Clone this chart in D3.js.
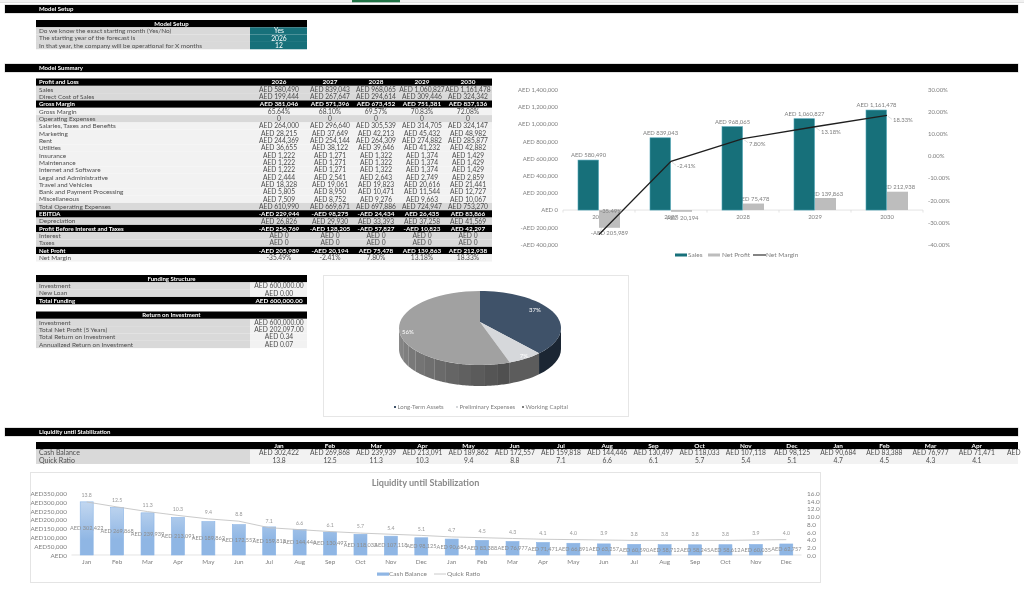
<!DOCTYPE html>
<html><head><meta charset="utf-8">
<script src="https://cdn.jsdelivr.net/npm/d3@7"></script>
<style>
html,body{margin:0;padding:0;background:#fff;overflow:hidden}
svg{display:block;filter:blur(0.4px)}
text{font-family:Lato,"Open Sans",sans-serif}
</style></head><body><svg id="c" width="1024" height="590"></svg>
<script>
// ---------- data ----------
const years=["2026","2027","2028","2029","2030"];
const setupLabels=["Do we know the exact starting month (Yes/No)","The starting year of the forecast is","In that year, the company will be operational for X months"];
const setupValues=["Yes","2026","12"];
const pnlLabels=["Sales","Direct Cost of Sales","Gross Margin","Gross Margin","Operating Expenses","Salaries, Taxes and Benefits","Marketing","Rent","Utilities","Insurance","Maintenance","Internet and Software","Legal and Administrative","Travel and Vehicles","Bank and Payment Processing","Miscellaneous","Total Operating Expenses","EBITDA","Depreciation","Profit Before Interest and Taxes","Interest","Taxes","Net Profit","Net Margin"];
const pnlKinds=["d","d","h","l","d","l","l","l","l","l","l","l","l","l","l","l","d","h","d","h","d","d","h","l"];
const pnlValues=[
["AED 580,490","AED 839,043","AED 968,065","AED 1,060,827","AED 1,161,478"],
["AED 199,444","AED 267,647","AED 294,614","AED 309,446","AED 324,342"],
["AED 381,046","AED 571,396","AED 673,452","AED 751,381","AED 837,136"],
["65.64%","68.10%","69.57%","70.83%","72.08%"],
["0","0","0","0","0"],
["AED 264,000","AED 296,640","AED 305,539","AED 314,705","AED 324,147"],
["AED 28,215","AED 37,649","AED 42,213","AED 45,432","AED 48,982"],
["AED 244,369","AED 254,144","AED 264,309","AED 274,882","AED 285,877"],
["AED 36,655","AED 38,122","AED 39,646","AED 41,232","AED 42,882"],
["AED 1,222","AED 1,271","AED 1,322","AED 1,374","AED 1,429"],
["AED 1,222","AED 1,271","AED 1,322","AED 1,374","AED 1,429"],
["AED 1,222","AED 1,271","AED 1,322","AED 1,374","AED 1,429"],
["AED 2,444","AED 2,541","AED 2,643","AED 2,749","AED 2,859"],
["AED 18,328","AED 19,061","AED 19,823","AED 20,616","AED 21,441"],
["AED 5,805","AED 8,950","AED 10,471","AED 11,544","AED 12,727"],
["AED 7,509","AED 8,752","AED 9,276","AED 9,663","AED 10,067"],
["AED 610,990","AED 669,671","AED 697,886","AED 724,947","AED 753,270"],
["-AED 229,944","-AED 98,275","-AED 24,434","AED 26,435","AED 83,866"],
["AED 26,826","AED 29,930","AED 33,393","AED 37,258","AED 41,569"],
["-AED 256,769","-AED 128,205","-AED 57,827","-AED 10,823","AED 42,297"],
["AED 0","AED 0","AED 0","AED 0","AED 0"],
["AED 0","AED 0","AED 0","AED 0","AED 0"],
["-AED 205,989","-AED 20,194","AED 75,478","AED 139,863","AED 212,938"],
["-35.49%","-2.41%","7.80%","13.18%","18.33%"]];
const sales=[580490,839043,968065,1060827,1161478];
const netProfit=[-205989,-20194,75478,139863,212938];
const netMargin=[-35.49,-2.41,7.80,13.18,18.33];
const fundingLabels=["Investment","New Loan","Total Funding"];
const fundingValues=["AED 600,000.00","AED 0.00","AED 600,000.00"];
const fundingKinds=["p","p","h"];
const roiLabels=["Investment","Total Net Profit (5 Years)","Total Return on Investment","Annualized Return on Investment"];
const roiValues=["AED 600,000.00","AED 202,097.00","AED 0.34","AED 0.07"];
const pieNames=["Long-Term Assets","Preliminary Expenses","Working Capital"];
const pieValues=[37,7,56];
const months=["Jan","Feb","Mar","Apr","May","Jun","Jul","Aug","Sep","Oct","Nov","Dec","Jan","Feb","Mar","Apr","May","Jun","Jul","Aug","Sep","Oct","Nov","Dec"];
const cash=[302422,269868,239939,213091,189862,172557,159818,144446,130497,118033,107118,98125,90684,83388,76977,71471,66891,63257,60590,58712,58245,58612,60035,62757];
const quick=[13.8,12.5,11.3,10.3,9.4,8.8,7.1,6.6,6.1,5.7,5.4,5.1,4.7,4.5,4.3,4.1,4.0,3.9,3.8,3.8,3.8,3.8,3.9,4.0];
const sectionTitles=["Model Setup","Model Summary","Liquidity until Stabilization"];

// ---------- helpers ----------
const svg=d3.select("#c");
const TEAL="#17707a",DARK="#d9d9d9",LIGHT="#f2f2f2",INK="#4d4d4d",AXIS="#808080";
const FS=6.7,LFS=6.45,BFS=6.05,RH=7.32;
const aed=d=>(d<0?"-":"")+"AED "+d3.format(",")(Math.abs(d));
function T(g,x,y,s,o={}){return g.append("text").attr("x",x).attr("y",y).attr("dy","0.34em")
  .attr("text-anchor",o.a||"start").attr("font-size",o.fs||FS).attr("font-weight",o.b?700:400)
  .attr("fill",o.c||INK).text(s);}
function R(g,x,y,w,h,f){return g.append("rect").attr("x",x).attr("y",y).attr("width",w).attr("height",h).attr("fill",f);}

// top sheet strip
const strip=svg.append("g");
R(strip,0,0,1024,2.2,"#f1f1f1");
R(strip,352,0,48,2.6,"#217346");
R(strip,0,2.2,1024,.6,"#cfcfcf");

// section bars
const barY=[5,64,428];
sectionTitles.forEach((t,i)=>{
  R(svg,4.5,barY[i]-.6,1014,9.2,"#cfcfcf");
  R(svg,5,barY[i],1013,8,"#000");
  T(svg,39,barY[i]+4,t,{c:"#fff",b:1,fs:BFS});
});

// model setup
const LX=36,VX=250,TX=39;
R(svg,LX,20,271,7.3,"#000");
T(svg,171.5,23.7,"Model Setup",{c:"#fff",b:1,a:"middle",fs:BFS});
setupLabels.forEach((l,i)=>{
  const y=27.3+i*RH;
  R(svg,LX,y,214,RH,DARK); R(svg,VX,y,57,RH,TEAL);
  T(svg,TX,y+RH/2,l,{fs:LFS});
  T(svg,279,y+RH/2,setupValues[i],{c:"#fff",a:"middle"});
});

// P&L table
const colX=[279,330,376,422,468];
const PY=78.5;
R(svg,LX,PY,456,RH,"#000");
T(svg,TX,PY+RH/2,"Profit and Loss",{c:"#fff",b:1,fs:BFS});
years.forEach((y,i)=>T(svg,colX[i],PY+RH/2,y,{c:"#fff",b:1,a:"middle",fs:6.4}));
pnlLabels.forEach((l,r)=>{
  const y=PY+(r+1)*RH,k=pnlKinds[r],h=k==="h";
  R(svg,LX,y,456,RH,h?"#000":k==="d"?DARK:LIGHT);
  T(svg,TX,y+RH/2,l,{c:h?"#fff":INK,b:h,fs:h?BFS:LFS});
  pnlValues[r].forEach((v,i)=>T(svg,colX[i],y+RH/2,v,{c:h?"#fff":INK,b:h,a:"middle",fs:h?6.4:FS}));
});

// funding + ROI
function smallTable(y0,title,labels,values,kinds){
  R(svg,LX,y0,271,RH,"#000");
  T(svg,171.5,y0+RH/2,title,{c:"#fff",b:1,a:"middle",fs:BFS});
  labels.forEach((l,i)=>{
    const y=y0+(i+1)*RH,h=kinds&&kinds[i]==="h";
    R(svg,LX,y,214,RH,h?"#000":DARK); R(svg,VX,y,57,RH,h?"#000":LIGHT);
    T(svg,TX,y+RH/2,l,{c:h?"#fff":INK,b:h,fs:h?BFS:LFS});
    T(svg,279,y+RH/2,values[i],{c:h?"#fff":INK,b:h,a:"middle",fs:h?6.4:FS});
  });
}
smallTable(275,"Funding Structure",fundingLabels,fundingValues,fundingKinds);
smallTable(311.5,"Return on Investment",roiLabels,roiValues);

// ---------- combo chart ----------
const combo=svg.append("g");
const CFS=5.9;
const x0=d3.scaleBand().domain(years).range([563,923]);
const yL=d3.scaleLinear().domain([-400000,1400000]).range([244.5,89.5]);
const yR=d3.scaleLinear().domain([-40,30]).range([244.5,89.5]);
const BW=21;
const axL=combo.append("g").attr("transform","translate(558,0)")
  .call(d3.axisLeft(yL).tickValues(d3.range(-400000,1400001,200000)).tickFormat(aed).tickSize(0).tickPadding(0));
const axR=combo.append("g").attr("transform","translate(928,0)")
  .call(d3.axisRight(yR).tickValues(d3.range(-40,31,10)).tickFormat(d=>d.toFixed(2)+"%").tickSize(0).tickPadding(0));
[axL,axR].forEach(a=>{a.select(".domain").remove();a.selectAll("text").attr("font-size",CFS).attr("fill",AXIS).attr("font-family","Lato");});
// baseline
combo.append("line").attr("x1",563).attr("x2",923).attr("y1",yL(0)).attr("y2",yL(0)).attr("stroke","#d9d9d9").attr("stroke-width",.7);
combo.selectAll(".tk").data(d3.range(6)).join("line").attr("x1",d=>563+d*x0.bandwidth()).attr("x2",d=>563+d*x0.bandwidth())
  .attr("y1",yL(0)).attr("y2",yL(0)+2.5).attr("stroke","#d9d9d9").attr("stroke-width",.7);
years.forEach(y=>T(combo,x0(y)+x0.bandwidth()/2,217,y,{a:"middle",c:AXIS,fs:CFS}));
const cx=y=>x0(y)+x0.bandwidth()/2;
// net profit bars + labels sit under the sales bars
combo.selectAll(".np").data(netProfit).join("rect").attr("x",(d,i)=>cx(years[i])).attr("width",BW)
  .attr("y",d=>yL(Math.max(d,0))).attr("height",d=>Math.abs(yL(d)-yL(0))).attr("fill","#bdbdbd");
netProfit.forEach((d,i)=>T(combo,cx(years[i])+BW/2,yL(d)+(d<0?(i===0?5:6):-4.5),aed(d),{a:"middle",c:AXIS,fs:CFS}));
combo.selectAll(".sl").data(sales).join("rect").attr("x",(d,i)=>cx(years[i])-BW).attr("width",BW-.5)
  .attr("y",d=>yL(d)).attr("height",d=>yL(0)-yL(d)).attr("fill",TEAL).attr("stroke","#4ea3b5").attr("stroke-width",.6);
sales.forEach((d,i)=>T(combo,cx(years[i])-BW/2,yL(d)-5,aed(d),{a:"middle",c:AXIS,fs:CFS}));
combo.append("path").datum(netMargin).attr("fill","none").attr("stroke","#1f1f1f").attr("stroke-width",1.3)
  .attr("d",d3.line().x((d,i)=>cx(years[i])).y(d=>yR(d)));
netMargin.forEach((d,i)=>{
  const lx=cx(years[i]),ly=yR(d),first=i===0;
  const tx=lx+(first?1:6),ty=first?211:ly+5;
  combo.append("line").attr("x1",lx+1).attr("y1",first?ly-2:ly+1).attr("x2",first?tx+6:tx-1).attr("y2",first?ty+2:ty-1).attr("stroke","#bfbfbf").attr("stroke-width",.5);
  T(combo,tx,ty,d.toFixed(2)+"%",{c:AXIS,fs:CFS});
});
// combo legend
R(combo,675,253.5,12,3,TEAL); T(combo,688,255,"Sales",{c:AXIS,fs:6.5});
R(combo,708,253.5,12,3,"#bdbdbd"); T(combo,722,255,"Net Profit",{c:AXIS,fs:6.5});
combo.append("line").attr("x1",753).attr("x2",766).attr("y1",255).attr("y2",255).attr("stroke","#1f1f1f").attr("stroke-width",1.1);
T(combo,766,255,"Net Margin",{c:AXIS,fs:6.5});

// ---------- 3D pie ----------
const pg=svg.append("g");
pg.append("rect").attr("x",323.5).attr("y",275.5).attr("width",305).attr("height",141).attr("fill","#fff").attr("stroke","#e6e6e6");
const PCX=480,PCY=328,PRX=81,PRY=37,APEX=322,DEPTH=21;
const ept=(a,dy=0)=>[PCX+PRX*Math.sin(a),PCY-PRY*Math.cos(a)+dy];
const arcs=d3.pie().sort(null)(pieValues);
const faceCol=["#3f5269","#d6d8db","#a1a1a1"];
const lineGen=d3.line();
function sidePath(a,b){
  const n=d3.range(0,9).map(i=>a+(b-a)*i/8);
  return lineGen([...n.map(t=>ept(t)),...n.slice().reverse().map(t=>ept(t,DEPTH))])+"Z";
}
const RAD=Math.PI/180;
const wallShade=d3.scaleLinear().domain([158,270]).range(["#505050","#8e8e8e"]);
pg.append("path").attr("d",sidePath(90*RAD,arcs[0].endAngle)).attr("fill","#1b2633");
pg.append("path").attr("d",sidePath(arcs[1].startAngle,arcs[1].endAngle)).attr("fill","#5c5c5c");
d3.range(12).forEach(i=>{
  const a=arcs[2].startAngle,b=270*RAD,s=(b-a)/12;
  pg.append("path").attr("d",sidePath(a+i*s,a+(i+1)*s+.002))
    .attr("fill",wallShade((a+i*s)/RAD));
});
arcs.forEach((d,i)=>{
  const steps=d3.range(0,41).map(k=>d.startAngle+(d.endAngle-d.startAngle)*k/40);
  pg.append("path").attr("d",lineGen([[PCX,APEX],...steps.map(t=>ept(t))])+"Z").attr("fill",faceCol[i]);
});
T(pg,535,310,"37%",{a:"middle",c:"#fff",fs:6});
T(pg,524,356,"7%",{a:"middle",c:"#fff",fs:6});
T(pg,408,332,"56%",{a:"middle",c:"#fff",fs:6});
const pieLegendX=[394,456,522];
pieNames.forEach((n,i)=>{
  R(pg,pieLegendX[i],406,2,2,faceCol[i]==="#a1a1a1"?"#7f7f7f":faceCol[i]);
  T(pg,pieLegendX[i]+3.5,407,n,{c:AXIS,fs:6});
});

// ---------- liquidity table ----------
const lq=svg.append("g");
const defs=svg.append("defs");
R(lq,LX,442,982,RH,"#000");
R(lq,LX,442+RH,214,RH*2,DARK);
R(lq,VX,442+RH,768,RH*2,LIGHT);
T(lq,TX,442+RH*1.5,"Cash Balance",{fs:7});
T(lq,TX,442+RH*2.5,"Quick Ratio",{fs:7});
const mcol=i=>i===0?279:330+46.2*(i-1);
months.slice(0,16).forEach((m,i)=>{
  T(lq,mcol(i),442+RH*.5,m,{c:"#fff",b:1,a:"middle",fs:6.4});
  T(lq,mcol(i),442+RH*1.5,aed(cash[i]),{a:"middle"});
  T(lq,mcol(i),442+RH*2.5,quick[i].toFixed(1),{a:"middle"});
});
// the table is cut by the sheet edge: only the start of the next cell shows
T(lq,1007,442+RH*1.5,"AED");

// ---------- liquidity chart ----------
const lc=svg.append("g");
lc.append("rect").attr("x",30.5).attr("y",472.5).attr("width",790).attr("height",110).attr("fill","#fff").attr("stroke","#e4e4e4");
T(lc,425.5,483,"Liquidity until Stabilization",{a:"middle",c:"#8a8a8a",b:1,fs:9.1});
const bx=d3.scaleBand().domain(d3.range(24)).range([71.5,801.5]);
const yC=d3.scaleLinear().domain([0,350000]).range([555,493.5]);
const yQ=d3.scaleLinear().domain([0,16]).range([555,493.5]);
const grad=defs.append("linearGradient").attr("id","bg").attr("gradientUnits","userSpaceOnUse").attr("x1",0).attr("x2",0).attr("y1",yC(302422)).attr("y2",540);
grad.append("stop").attr("offset","0%").attr("stop-color","#c2d7f0");
grad.append("stop").attr("offset","100%").attr("stop-color","#8fb6e4");
const axC=lc.append("g").attr("transform","translate(67,0)")
  .call(d3.axisLeft(yC).tickValues(d3.range(0,350001,50000)).tickFormat(d=>"AED"+d3.format(",")(d)).tickSize(0).tickPadding(0));
const axQ=lc.append("g").attr("transform","translate(807,0)")
  .call(d3.axisRight(yQ).tickValues(d3.range(0,17,2)).tickFormat(d=>d.toFixed(1)).tickSize(0).tickPadding(0));
[axC,axQ].forEach(a=>{a.select(".domain").remove();a.selectAll("text").attr("font-size",6.4).attr("fill",AXIS).attr("font-family","Lato");});
lc.append("line").attr("x1",71.5).attr("x2",801.5).attr("y1",555).attr("y2",555).attr("stroke","#d9d9d9").attr("stroke-width",.7);
const bc=i=>bx(i)+bx.bandwidth()/2;
lc.selectAll(".cb").data(cash).join("rect").attr("x",(d,i)=>bc(i)-6.5).attr("width",13)
  .attr("y",d=>yC(d)).attr("height",d=>555-yC(d)).attr("fill","url(#bg)").attr("stroke","#8ab4e6").attr("stroke-width",.6);
lc.append("path").datum(quick).attr("fill","none").attr("stroke","#c4c4c4").attr("stroke-width",.9)
  .attr("d",d3.line().x((d,i)=>bc(i)).y(d=>yQ(d)));
cash.forEach((d,i)=>T(lc,bc(i),(yC(d)+555)/2,aed(d),{a:"middle",c:"#8c8c8c",fs:5.6}));
quick.forEach((d,i)=>T(lc,bc(i),yQ(d)-6.5,d.toFixed(1),{a:"middle",c:"#999",fs:5.2}));
months.forEach((m,i)=>T(lc,bc(i),562,m,{a:"middle",c:AXIS,fs:6.3}));
R(lc,377,572.5,12,3.2,"#8fb6e4"); T(lc,389,574,"Cash Balance",{c:AXIS,fs:6.5});
lc.append("line").attr("x1",434).attr("x2",446).attr("y1",574).attr("y2",574).attr("stroke","#c4c4c4").attr("stroke-width",.9);
T(lc,447,574,"Quick Ratio",{c:AXIS,fs:6.5});
</script></body></html>
